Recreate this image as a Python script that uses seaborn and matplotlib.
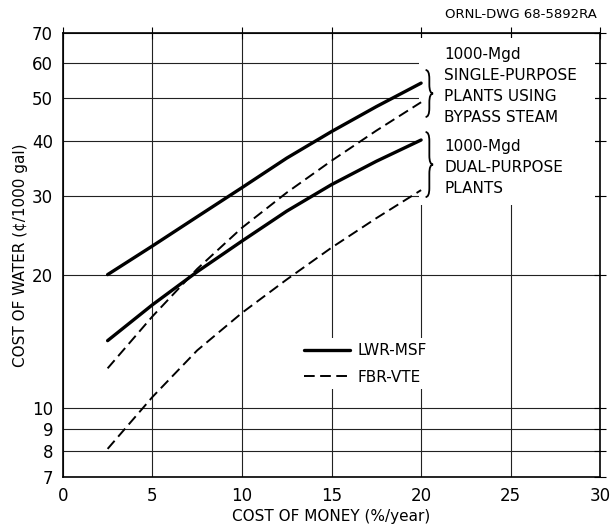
import numpy as np
import pandas as pd
import matplotlib
matplotlib.use("Agg")
import matplotlib.pyplot as plt
import seaborn as sns
from matplotlib.path import Path
from matplotlib.patches import PathPatch, Rectangle
from matplotlib.lines import Line2D
from matplotlib.ticker import FixedLocator, NullLocator, FixedFormatter

# ---- data ----
rate = [2.5, 5, 7.5, 10, 12.5, 15, 17.5, 20]
lwr_single = [20.0, 23.2, 27.0, 31.4, 36.6, 42.0, 47.8, 54.0]
fbr_single = [12.3, 16.1, 20.6, 25.5, 30.6, 36.1, 42.2, 48.9]
lwr_dual = [14.2, 17.1, 20.3, 23.8, 27.8, 31.9, 36.0, 40.2]
fbr_dual = [8.1, 10.6, 13.5, 16.4, 19.5, 23.0, 26.8, 31.0]

x_ticks = [0, 5, 10, 15, 20, 25, 30]
y_ticks = [7, 8, 9, 10, 20, 30, 40, 50, 60, 70]
systems = ["LWR-MSF", "FBR-VTE"]
single_label = "1000-Mgd\nSINGLE-PURPOSE\nPLANTS USING\nBYPASS STEAM"
dual_label = "1000-Mgd\nDUAL-PURPOSE\nPLANTS"

rows = []
for sysname, plant, vals in [("LWR-MSF", "single", lwr_single),
                             ("FBR-VTE", "single", fbr_single),
                             ("LWR-MSF", "dual", lwr_dual),
                             ("FBR-VTE", "dual", fbr_dual)]:
    for xv, yv in zip(rate, vals):
        rows.append({"rate": xv, "cost": yv, "system": sysname,
                     "unit": sysname + plant})
df = pd.DataFrame(rows)

sns.set_theme(style="white")
plt.rcParams["font.family"] = ["DejaVu Sans"]
plt.rcParams["text.color"] = "black"
plt.rcParams["axes.labelcolor"] = "black"
plt.rcParams["xtick.color"] = "black"
plt.rcParams["ytick.color"] = "black"

fig = plt.figure(figsize=(6.10, 5.25), dpi=100)
ax = fig.add_axes([0.103, 0.0914, 0.984 - 0.103, 0.937 - 0.0914])

lw_map = {"LWR-MSF": 2.4, "FBR-VTE": 1.4}
dash_map = {"LWR-MSF": "", "FBR-VTE": (5.5, 2.8)}

sns.lineplot(data=df, x="rate", y="cost", style="system", size="system",
             units="unit", estimator=None, color="black",
             dashes=dash_map, sizes=lw_map, legend=False, ax=ax, zorder=3)

ax.set_yscale("log")
ax.set_xlim(0, 30)
ax.set_ylim(7, 70)
ax.xaxis.set_major_locator(FixedLocator(x_ticks))
ax.yaxis.set_major_locator(FixedLocator(y_ticks))
ax.yaxis.set_major_formatter(FixedFormatter([str(v) for v in y_ticks]))
ax.yaxis.set_minor_locator(NullLocator())
ax.xaxis.set_minor_locator(NullLocator())

ax.grid(True, color="#222222", lw=0.8)
ax.set_axisbelow(True)
ax.tick_params(axis="both", direction="inout", length=8, width=0.8,
               color="black", labelsize=12, labelcolor="black",
               top=True, right=True, labeltop=False, labelright=False, pad=3)
for s in ax.spines.values():
    s.set_color("black")
    s.set_linewidth(1.2)
    s.set_visible(True)

ax.set_xlabel("COST OF MONEY (%/year)", fontsize=11, labelpad=3)
ax.set_ylabel("COST OF WATER (¢/1000 gal)", fontsize=11, labelpad=3)

# blank annotation area in upper right
lo, hi = np.log10(7), np.log10(70)
def yfrac(v):
    return (np.log10(v) - lo) / (hi - lo)

rx0 = 19.9 / 30
ax.add_patch(Rectangle((rx0, yfrac(28.7)),
                       1 - 0.01 - rx0,
                       1 - 0.012 - yfrac(28.7),
                       transform=ax.transAxes, facecolor="white",
                       edgecolor="none", zorder=1))

def brace(x0, ylo, yhi, w=0.014):
    yb, yt = yfrac(ylo), yfrac(yhi)
    ym = (yb + yt) / 2
    d = 0.02
    xm = x0 + w / 2
    verts = [(x0, yt), (xm, yt), (xm, yt - d),
             (xm, ym + d), (xm, ym), (x0 + w, ym),
             (xm, ym), (xm, ym - d),
             (xm, yb + d), (xm, yb), (x0, yb)]
    codes = [Path.MOVETO, Path.CURVE3, Path.CURVE3,
             Path.LINETO, Path.CURVE3, Path.CURVE3,
             Path.CURVE3, Path.CURVE3,
             Path.LINETO, Path.CURVE3, Path.CURVE3]
    ax.add_patch(PathPatch(Path(verts, codes), transform=ax.transAxes,
                           fill=False, lw=1.3, color="black", zorder=4))

bx = 20.25 / 30
brace(bx, 45.3, 57.8)
brace(bx, 29.9, 41.9)

ax.text(21.3 / 30, yfrac(65.0), single_label, transform=ax.transAxes,
        fontsize=11, va="top", ha="left", linespacing=1.5, zorder=5)
ax.text(21.3 / 30, yfrac(40.4), dual_label, transform=ax.transAxes,
        fontsize=11, va="top", ha="left", linespacing=1.5, zorder=5)

fig.text(0.978, 0.972, "ORNL-DWG 68-5892RA", fontsize=9.5, ha="right",
         va="center")

handles = [Line2D([], [], color="black", lw=lw_map[s],
                  linestyle=("-" if s == "LWR-MSF" else (0, dash_map[s])))
           for s in systems]
leg = ax.legend(handles, systems, loc="center left",
                bbox_to_anchor=(0.44, 0.255), frameon=True, fontsize=11,
                handlelength=3.0, handletextpad=0.5, labelspacing=0.75,
                borderpad=0.3, borderaxespad=0.0, fancybox=False)
leg.get_frame().set_facecolor("white")
leg.get_frame().set_edgecolor("none")
leg.get_frame().set_alpha(1)
leg.set_zorder(6)

fig.savefig("out.png", dpi=100)
